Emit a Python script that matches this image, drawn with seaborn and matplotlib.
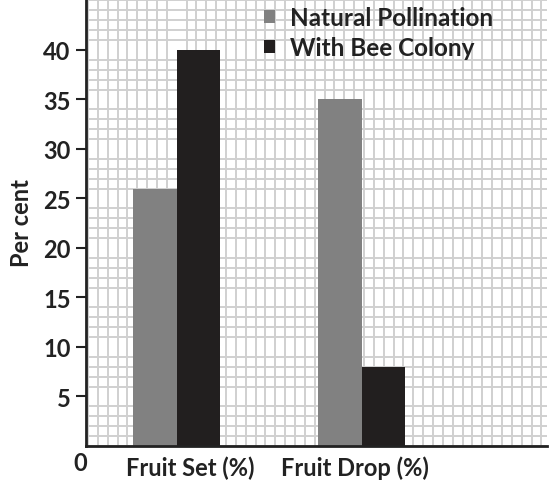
import matplotlib
matplotlib.use("Agg")
import matplotlib.pyplot as plt
import matplotlib.transforms as mtransforms
from matplotlib.ticker import MultipleLocator
import seaborn as sns
import pandas as pd

categories = ["Fruit Set (%)", "Fruit Drop (%)"]
series_names = ["Natural Pollination", "With Bee Colony"]
natural = [26, 35]
bee = [40, 8]
yticks = [5, 10, 15, 20, 25, 30, 35, 40]

df = pd.DataFrame({
    "cat": categories * 2,
    "series": [series_names[0]] * 2 + [series_names[1]] * 2,
    "value": natural + bee,
})

sns.set_style("white")
plt.rcParams["font.family"] = ["Lato", "DejaVu Sans"]
plt.rcParams["font.weight"] = "bold"

fig = plt.figure(figsize=(5.51, 4.89), dpi=100)
ax = fig.add_axes([86 / 551, 1 - 447 / 489, 461 / 551, 447 / 489])

sns.barplot(data=df, x="cat", y="value", hue="series", order=categories,
            hue_order=series_names, palette=["#818181", "#221f1f"],
            width=0.47, saturation=1, linewidth=0, ax=ax)

ax.set_xlim(-0.49, 2.0)
ax.set_ylim(0, 45.15)

# grid paper
ax.yaxis.set_minor_locator(MultipleLocator(1))
ax.xaxis.set_minor_locator(MultipleLocator(9.85 / 185))
ax.grid(which="minor", color="#d0d0d0", linewidth=1.4)
ax.grid(which="major", visible=False)
ax.set_axisbelow(True)
ax.tick_params(which="minor", length=0)

for s in ["top", "right"]:
    ax.spines[s].set_visible(False)
for s in ["left", "bottom"]:
    ax.spines[s].set_color("#222222")
    ax.spines[s].set_linewidth(2)

ax.set_yticks(yticks)
ax.set_yticklabels([str(v) for v in yticks], fontsize=17, fontweight="bold", color="#222222")
ax.tick_params(axis="y", which="major", length=7, width=1.5, color="#222222", pad=4, left=True)
ax.tick_params(axis="x", which="major", length=0, pad=7)
ax.set_xticklabels(categories, fontsize=17, fontweight="bold", color="#222222")
offsets = [14, -7]
for lab, dx in zip(ax.get_xticklabels(), offsets):
    lab.set_transform(lab.get_transform() + mtransforms.ScaledTranslation(dx / 100, 0, fig.dpi_scale_trans))

ax.text(-0.012, -0.012, "0", transform=ax.transAxes, ha="center", va="top",
        fontsize=17, fontweight="bold", color="#222222")

ax.set_xlabel("")
ax.set_ylabel("Per cent", fontsize=17, fontweight="bold", color="#222222", labelpad=7)

leg = ax.legend(loc="upper left", bbox_to_anchor=(178 / 461, 0.985), frameon=False,
                fontsize=17.5, handlelength=0.45, handleheight=0.45, handletextpad=0.6,
                labelspacing=0.3, borderpad=0, borderaxespad=0)
for t in leg.get_texts():
    t.set_fontweight("bold")
    t.set_color("#222222")

fig.savefig("out.png", dpi=100)
